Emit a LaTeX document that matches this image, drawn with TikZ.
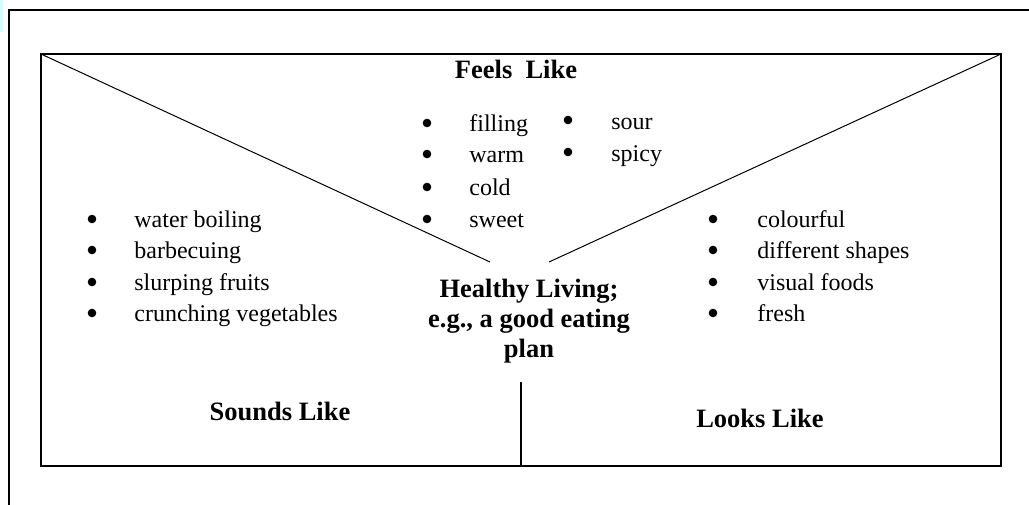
\documentclass[tikz,border=0pt]{standalone}
\usepackage{fontspec}
\setmainfont{Liberation Serif}
\definecolor{tabcyan}{RGB}{208,255,255}
\begin{document}
\begin{tikzpicture}[x=0.5pt,y=-0.5pt,
  heading/.style={font=\fontsize{13.25}{15}\selectfont\bfseries, anchor=base, inner sep=0pt},
  centre/.style={font=\fontsize{13.25}{15}\selectfont\bfseries, align=center, anchor=base, inner sep=0pt},
  item/.style={font=\fontsize{12}{14}\selectfont, anchor=base west, inner sep=0pt},
  bul/.style={circle, fill=black, inner sep=0pt, minimum size=4.3pt},
  heavy/.style={line width=1pt},
  fine/.style={line width=0.5pt},
  mid/.style={line width=0.7pt}]
\useasboundingbox (0,0) rectangle (1029,504);
\fill[tabcyan] (0,0) rectangle (3,32);

% outer frame, running off the page at the right and bottom
\draw[heavy] (9,520) -- (9,10) -- (1040,10);

% inner panel
\coordinate (tl) at (41,54);
\coordinate (tr) at (1001,54);
\coordinate (br) at (1001,466);
\coordinate (bl) at (41,466);
\draw[heavy] (tl) -- (tr) -- (br) -- (bl) -- cycle;

% the V that separates "Feels Like" from the two lower sections
\coordinate (vl) at (490,262);
\coordinate (vr) at (549,262);
\draw[fine] (tl) -- (vl);
\draw[fine] (tr) -- (vr);

% divider between "Sounds Like" and "Looks Like"
\coordinate (dtop) at (521,382);
\coordinate (dbot) at (521,466);
\draw[mid] (dtop) -- (dbot);

% section headings
\node[heading] (feels) at (516,78) {Feels\ \ Like};
\node[heading] (sounds) at (280,420) {Sounds Like};
\node[heading] (looks) at (760,427) {Looks Like};
% a multi-line node sits on the baseline of its last line
\node[centre] (topic) at (529,357) {Healthy Living;\\e.g., a good eating\\plan};

% Feels Like items
\foreach \t/\y [count=\i] in {filling/131, warm/162, cold/195, sweet/227} {
  \node[bul] (fb\i) at (427,\y-8) {};
  \node[item] (ft\i) at (469,\y) {\t};
}
\foreach \t/\y [count=\i] in {sour/129, spicy/161} {
  \node[bul] (gb\i) at (568,\y-9) {};
  \node[item] (gt\i) at (611,\y) {\t};
}

% Sounds Like items
\foreach \t/\y [count=\i] in {water boiling/227, barbecuing/258, slurping fruits/290, crunching vegetables/321} {
  \node[bul] (sb\i) at (92,\y-8) {};
  \node[item] (st\i) at (134,\y) {\t};
}

% Looks Like items
\foreach \t/\y [count=\i] in {colourful/227, different shapes/258, visual foods/290, fresh/321} {
  \node[bul] (lb\i) at (713,\y-8) {};
  \node[item] (lt\i) at (757,\y) {\t};
}
\end{tikzpicture}
\end{document}
